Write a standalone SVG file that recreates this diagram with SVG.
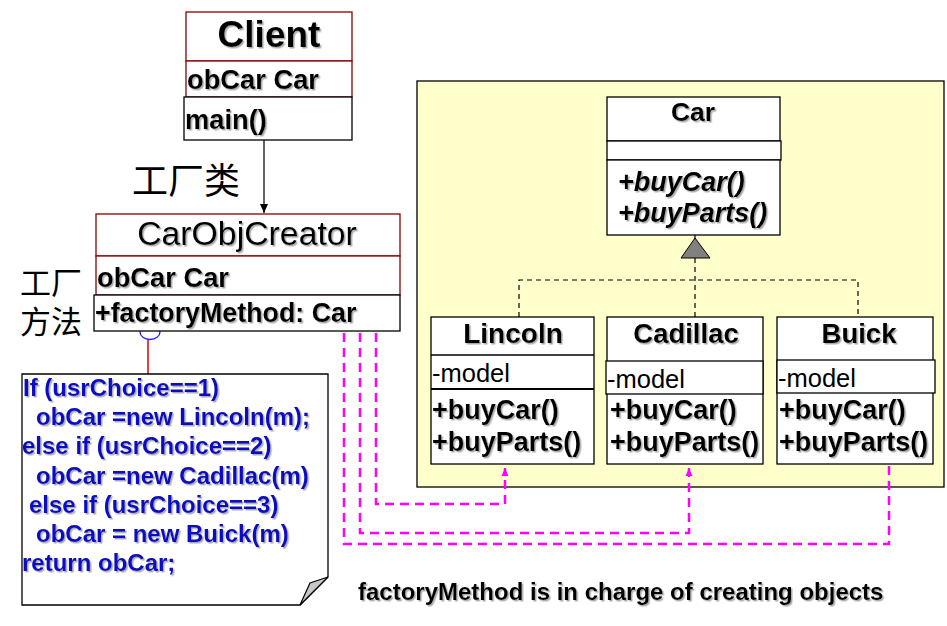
<svg xmlns="http://www.w3.org/2000/svg" width="947" height="626" viewBox="0 0 947 626">
<style>
text{font-family:"Liberation Sans",Arial,sans-serif;fill:#000}
.b{font-weight:bold}
.sh{filter:url(#sh)}
.red{fill:#fff;stroke:#8b0000;stroke-width:1.3}
.blk{fill:#fff;stroke:#000;stroke-width:1.3}
.cj{font-family:"Noto Sans CJK SC","Liberation Sans",sans-serif}
.code{font-weight:bold;font-size:24px;fill:#0808c0}
.mag{fill:none;stroke:#ff00ff;stroke-width:2.5;stroke-dasharray:9,6}
.gen{fill:none;stroke:#000;stroke-width:1.2;stroke-dasharray:5,4}
</style>
<defs>
<filter id="sh" x="-5%" y="-20%" width="115%" height="150%">
<feDropShadow dx="1.5" dy="1.5" stdDeviation="0.6" flood-color="#888" flood-opacity="0.7"/>
</filter>
<marker id="ah" markerWidth="10" markerHeight="10" refX="9" refY="5" orient="auto" markerUnits="userSpaceOnUse">
<path d="M0,1 L9,5 L0,9 Z" fill="#000"/>
</marker>
<marker id="mh" markerWidth="10" markerHeight="10" refX="8" refY="5" orient="auto" markerUnits="userSpaceOnUse">
<path d="M0,1.5 L8,5 L0,8.5 Z" fill="#ff00ff"/>
</marker>
</defs>
<rect width="947" height="626" fill="#fff"/>

<!-- yellow panel -->
<rect x="417" y="81" width="527" height="406" fill="#ffffcc" stroke="#000" stroke-width="1.3"/>

<!-- connectors -->
<g id="connectors">
<line x1="264" y1="140" x2="264" y2="213" stroke="#000" stroke-width="1.2" marker-end="url(#ah)"/>
<line x1="148" y1="339" x2="148" y2="390" stroke="#e00000" stroke-width="1.5"/>
<ellipse cx="150" cy="332" rx="10" ry="7.5" fill="#fff" stroke="#2020ff" stroke-width="1.3"/>
<path class="gen" d="M695,235 V240 M695,258 V317 M519,317 V280 H858 V317"/>
<polygon points="695,238 710,258 681,258" fill="#808080" stroke="#000" stroke-width="1"/>
<path class="mag" d="M376,333 V504 H505 V468" marker-end="url(#mh)"/>
<path class="mag" d="M360,333 V533 H689 V468" marker-end="url(#mh)"/>
<path class="mag" d="M344,333 V544 H889 V466"/>
</g>

<!-- Client -->
<g id="client">
<rect class="red" x="186" y="12" width="166" height="49"/>
<rect class="red" x="186" y="61" width="166" height="36"/>
<rect class="blk" x="184" y="97" width="168" height="43"/>
<text class="b sh" x="269" y="47" font-size="37" text-anchor="middle">Client</text>
<text class="b sh" x="187" y="89" font-size="27.3">obCar Car</text>
<text class="b sh" x="185" y="129" font-size="27.3">main()</text>
</g>

<text class="cj" x="132" y="194" font-size="36">工厂类</text>

<!-- CarObjCreator -->
<g id="carobjcreator">
<rect class="red" x="96" y="214" width="304" height="42"/>
<rect class="red" x="96" y="256" width="304" height="39"/>
<rect class="blk" x="94" y="295" width="306" height="36"/>
<text class="sh" x="247" y="245" font-size="33.8" text-anchor="middle">CarObjCreator</text>
<text class="b sh" x="97" y="287" font-size="27.3">obCar Car</text>
<text class="b sh" x="95" y="322" font-size="26.8">+factoryMethod: Car</text>
</g>

<g id="label-factory-method">
<text class="cj" font-size="31"><tspan x="20" y="294">工厂</tspan><tspan x="20" y="333">方法</tspan></text>
</g>

<!-- note -->
<g id="note">
<path d="M22,374 H328 V577 L300,605 H22 Z" fill="#fff" stroke="#000" stroke-width="1.3"/>
<path d="M328,577 L310,583 L300,605 Z" fill="#c8c8c8" stroke="#000" stroke-width="1.2"/>
<text class="code sh" x="23" y="396">If (usrChoice==1)</text>
<text class="code sh" x="36" y="425">obCar =new Lincoln(m);</text>
<text class="code sh" x="22" y="454">else if (usrChoice==2)</text>
<text class="code sh" x="36" y="484">obCar =new Cadillac(m)</text>
<text class="code sh" x="29" y="513">else if (usrChoice==3)</text>
<text class="code sh" x="36" y="542">obCar = new Buick(m)</text>
<text class="code sh" x="22" y="571">return obCar;</text>
</g>

<!-- Car -->
<g id="car">
<rect class="blk" x="607" y="97" width="173" height="44"/>
<rect class="blk" x="607" y="141" width="174" height="19"/>
<rect class="blk" x="607" y="160" width="173" height="75"/>
<text class="b sh" x="693" y="121" font-size="26.5" text-anchor="middle">Car</text>
<text class="b sh" x="618" y="191" font-size="27" font-style="italic">+buyCar()</text>
<text class="b sh" x="618" y="222" font-size="27" font-style="italic">+buyParts()</text>
</g>

<!-- Lincoln -->
<g id="lincoln">
<rect class="blk" x="431" y="317" width="163" height="147"/>
<line x1="431" y1="355" x2="594" y2="355" stroke="#000" stroke-width="1.3"/>
<line x1="431" y1="389" x2="594" y2="389" stroke="#000" stroke-width="2.2"/>
<text class="b sh" x="513" y="343" font-size="28" text-anchor="middle">Lincoln</text>
<text x="432" y="382" font-size="25.5">-model</text>
<text class="b sh" x="432" y="419" font-size="27">+buyCar()</text>
<text class="b sh" x="432" y="451" font-size="27">+buyParts()</text>
</g>

<!-- Cadillac -->
<g id="cadillac">
<rect class="blk" x="607" y="317" width="156" height="147"/>
<rect class="blk" x="606" y="361" width="157" height="33"/>
<text class="b sh" x="686" y="343" font-size="27.5" text-anchor="middle">Cadillac</text>
<text x="607" y="388" font-size="25.5">-model</text>
<text class="b sh" x="610" y="419" font-size="27">+buyCar()</text>
<text class="b sh" x="610" y="451" font-size="27">+buyParts()</text>
</g>

<!-- Buick -->
<g id="buick">
<rect class="blk" x="777" y="317" width="156" height="147"/>
<rect class="blk" x="777" y="360" width="158" height="33"/>
<text class="b sh" x="859" y="343" font-size="27.5" text-anchor="middle">Buick</text>
<text x="778" y="387" font-size="25.5">-model</text>
<text class="b sh" x="779" y="419" font-size="27">+buyCar()</text>
<text class="b sh" x="779" y="451" font-size="27">+buyParts()</text>
</g>

<text class="b sh" x="358" y="600" font-size="24">factoryMethod is in charge of creating objects</text>
</svg>
